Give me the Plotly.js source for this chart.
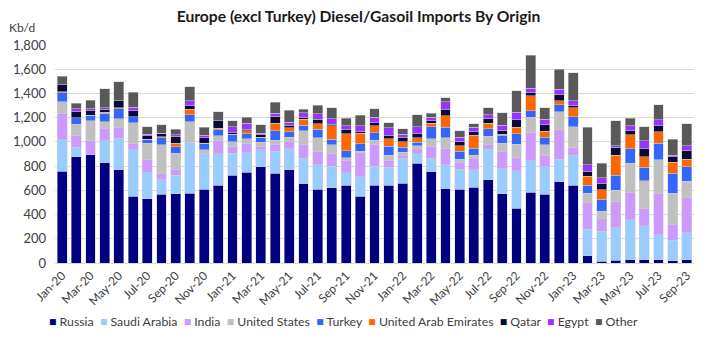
<!DOCTYPE html>
<html>
<head>
<meta charset="utf-8">
<script src="https://cdn.plot.ly/plotly-3.0.1.min.js"></script>
<style>html,body{margin:0;padding:0;background:#fff;}#chart{width:707px;height:353px;}</style>
</head>
<body>
<div id="chart"></div>
<script>
const months = ["Jan-20","Feb-20","Mar-20","Apr-20","May-20","Jun-20","Jul-20","Aug-20","Sep-20","Oct-20","Nov-20","Dec-20",
"Jan-21","Feb-21","Mar-21","Apr-21","May-21","Jun-21","Jul-21","Aug-21","Sep-21","Oct-21","Nov-21","Dec-21",
"Jan-22","Feb-22","Mar-22","Apr-22","May-22","Jun-22","Jul-22","Aug-22","Sep-22","Oct-22","Nov-22","Dec-22",
"Jan-23","Feb-23","Mar-23","Apr-23","May-23","Jun-23","Jul-23","Aug-23","Sep-23"];

const russia = [758,877,893,827,772,550,530,566,570,574,610,640,725,750,794,742,769,654,610,621,643,552,643,643,657,824,753,613,607,624,687,572,453,585,566,671,643,60,14,22,27,27,27,19,27];
const saudiArabia = [259,79,0,182,258,384,217,121,153,421,291,264,182,160,140,181,174,212,201,176,104,160,154,148,209,80,110,198,168,148,253,206,308,261,228,184,245,220,247,269,330,281,207,168,223];
const india = [214,94,115,101,88,55,108,49,50,0,0,107,55,74,28,53,57,110,110,110,97,198,179,53,22,41,99,137,58,88,36,143,113,234,96,244,66,217,104,220,226,140,343,129,289];
const unitedStates = [102,96,168,58,75,171,134,240,132,173,33,39,41,44,35,38,39,118,115,69,27,11,38,46,27,22,63,88,24,30,71,66,108,124,86,151,173,77,64,91,241,231,275,258,134];
const turkey = [74,55,44,69,79,49,33,60,55,55,55,49,60,38,42,77,44,44,69,46,55,63,63,72,41,28,102,85,66,58,63,68,87,52,63,55,79,69,99,123,119,110,137,168,121];
const uae = [8,0,0,8,11,0,0,8,27,47,0,14,0,28,0,63,33,49,44,110,140,88,58,66,47,41,27,94,44,107,44,8,52,124,49,36,77,74,77,163,118,88,94,88,61];
const qatar = [55,49,36,25,58,50,28,22,61,27,47,63,14,11,24,58,22,17,38,14,33,13,25,27,36,30,19,55,36,30,36,31,61,24,55,52,14,39,49,68,33,71,49,49,77];
const egypt = [0,22,19,13,0,27,13,6,13,41,19,0,47,49,9,25,24,38,44,44,36,47,44,63,24,61,31,63,36,36,33,44,63,39,44,41,41,55,52,14,41,61,50,11,38];
const other = [74,47,69,157,154,124,64,68,44,118,66,74,49,50,71,90,99,28,71,93,60,88,71,42,44,96,33,33,55,28,60,104,178,272,96,165,231,310,118,206,60,118,123,132,179];

const seriesNames = ["Russia","Saudi Arabia","India","United States","Turkey","United Arab Emirates","Qatar","Egypt","Other"];
const seriesValues = [russia, saudiArabia, india, unitedStates, turkey, uae, qatar, egypt, other];
const seriesColors = ["#000080","#99ccff","#cc99ff","#c0c0c0","#3366ff","#ff6600","#0a0a3a","#9933ff","#595959"];

const yTicks = [0,200,400,600,800,1000,1200,1400,1600,1800];
const xTickLabels = months.filter((m,i)=> i % 2 === 0);

const FONT = "Lato, 'Liberation Sans', sans-serif";

const traces = seriesNames.map((name,i)=>({
  type: "bar",
  name: name,
  x: months,
  y: seriesValues[i],
  marker: {color: seriesColors[i], line: {color: "#d0d0d0", width: 0.5}},
  showlegend: false,
  hovertemplate: name + ": %{y}<extra></extra>"
}));

const legendText = seriesNames.map((n,i)=>
  `<span style="color:${seriesColors[i]}">■</span> ${n}`).join("  ");

const layout = {
  width: 707, height: 353,
  margin: {l: 55, r: 13, t: 45, b: 90},
  paper_bgcolor: "#fff", plot_bgcolor: "#fff",
  barmode: "stack",
  bargap: 0.3,
  font: {family: FONT, size: 12, color: "#404040"},
  title: {text: "<b>Europe (excl Turkey) Diesel/Gasoil Imports By Origin</b>", x: 0.507, xanchor: "center", y: 0.952, yanchor: "middle", font: {family: FONT, size: 15.7, color: "#1a1a1a"}},
  xaxis: {
    type: "category",
    tickmode: "array", tickvals: xTickLabels, ticktext: xTickLabels,
    tickangle: -45,
    tickfont: {family: FONT, size: 12, color: "#404040"},
    showline: true, linecolor: "#d9d9d9", linewidth: 1,
    showgrid: false, ticks: "", fixedrange: true
  },
  yaxis: {
    range: [0, 1800],
    tickmode: "array", tickvals: yTicks,
    tickformat: ",d",
    tickfont: {family: FONT, size: 13, color: "#404040"},
    showgrid: true, gridcolor: "#d9d9d9", gridwidth: 1,
    zeroline: false, showline: false, ticks: "",
    ticklabelstandoff: 8, fixedrange: true
  },
  annotations: [
    {text: "Kb/d", xref: "paper", yref: "paper", x: -0.075, y: 1.078, xanchor: "left", yanchor: "middle", showarrow: false, font: {family: FONT, size: 12, color: "#404040"}},
    {text: legendText, xref: "paper", yref: "paper", x: 0.452, y: -0.27, xanchor: "center", yanchor: "middle", showarrow: false, font: {family: FONT, size: 12.3, color: "#404040"}}
  ]
};

Plotly.newPlot("chart", traces, layout, {displayModeBar: false, staticPlot: true});
</script>
</body>
</html>
